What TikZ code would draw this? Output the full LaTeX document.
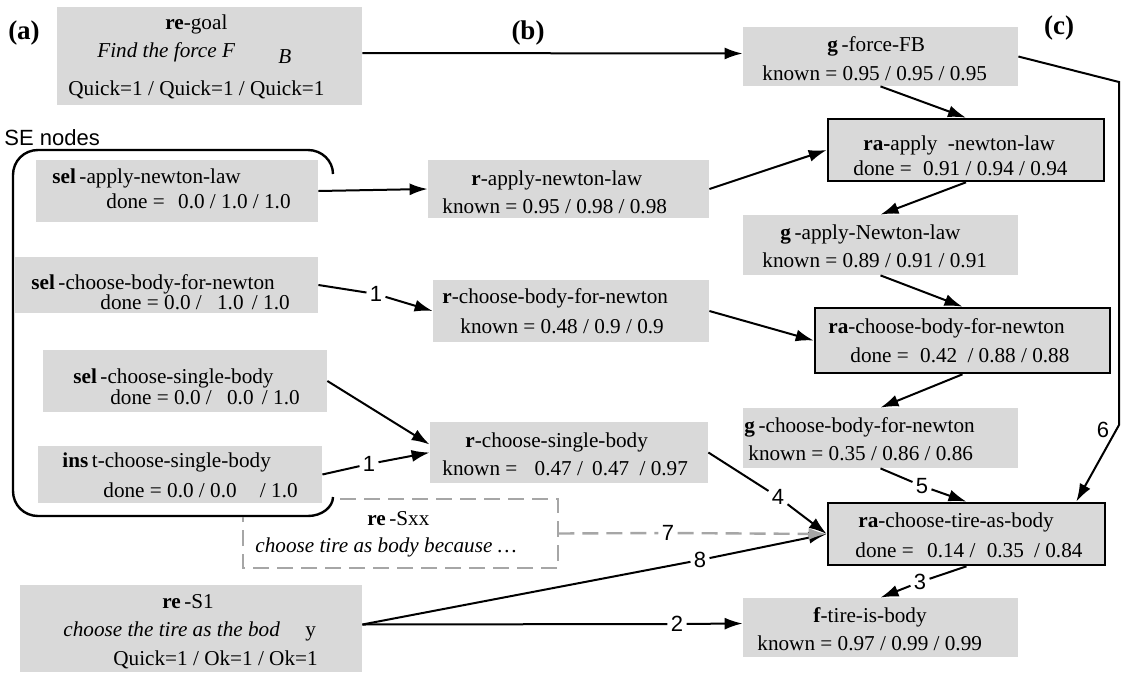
\documentclass[tikz,border=0pt]{standalone}
\usepackage{fontspec}
\setmainfont{Liberation Serif}
\newfontfamily\labfont{Liberation Sans}
\usetikzlibrary{fit,arrows.meta,calc}
\definecolor{boxgray}{RGB}{217,217,217}
\definecolor{dashgray}{RGB}{166,166,166}
\tikzset{
  box/.style={fill=boxgray, draw=none, inner sep=0pt},
  rabox/.style={box, draw=black, line width=1.3pt},
  txt/.style={anchor=base west, inner sep=0pt, font=\fontsize{10.6}{12}\selectfont},
  lbl/.style={inner sep=1.5pt, font=\labfont\fontsize{11}{12}\selectfont},
  edge/.style={line width=1pt, -{Latex[length=9pt,width=6pt]}},
  plainedge/.style={line width=1pt},
  dedge/.style={draw=dashgray, line width=1.2pt, dash pattern=on 8pt off 4pt},
  panel/.style={font=\bfseries\fontsize{13.5}{15}\selectfont, inner sep=0pt},
  grp/.style={line width=1.2pt},
}
\begin{document}
\begin{tikzpicture}[x=0.5pt,y=-0.5pt]
\useasboundingbox (0,0) rectangle (1121,675);

% boxes
\node[box, fit={(57,7) (362,105)}] (goal) {};
\node[box, fit={(743,27) (1018,86)}] (gfb) {};
\node[rabox, fit={(828,119) (1104,181)}] (raapply) {};
\node[box, fit={(428,160) (709,218)}] (rapply) {};
\node[box, fit={(743,215) (1018,275)}] (gapply) {};
\node[rabox, fit={(815,308) (1110,373)}] (rachoose) {};
\node[box, fit={(433,280) (709,342)}] (rchoose) {};
\node[box, fit={(743,408) (1018,468)}] (gchoose) {};
\node[rabox, fit={(828,503) (1105,565)}] (ratire) {};
\node[box, fit={(743,598) (1018,657)}] (ftire) {};
\node[box, fit={(36,160) (318,222)}] (selapply) {};
\node[box, fit={(15,257) (318,313)}] (selchoose) {};
\node[box, fit={(43,350) (327,412)}] (selsingle) {};
\node[box, fit={(38,446) (322,503)}] (inst) {};
\node[box, fit={(430,422) (708,483)}] (rsingle) {};
\node[box, fit={(20,585) (362,672)}] (reS) {};
\node[inner sep=0pt, fit={(243,499) (558,568)}] (resxx) {};

% SE group outline
\draw[grp] (333,174) .. controls (333,161) and (322,150) .. (308,150) -- (38,150)
  .. controls (24,150) and (13,161) .. (13,175) -- (13,491)
  .. controls (13,505) and (24,516) .. (38,516) -- (308,516)
  .. controls (322,516) and (333,507) .. (333,497);
\node[anchor=base west, inner sep=0pt, font=\labfont\fontsize{11}{13}\selectfont] (senodes) at (4,145) {SE nodes};

% dashed box
\draw[dedge] (340,499) -- (558,499) -- (558,568) -- (243,568) -- (243,517);

% panel labels
\node[panel] (pa) at (24,33) {(a)};
\node[panel] (pb) at (528,33) {(b)};
\node[panel] (pc) at (1059,28) {(c)};

% texts
\node[txt] (goal1) at (165,29) {\textbf{re}-goal};
\node[txt] (goal2) at (97,57) {\textit{Find the force F}};
\node[txt] (goal3) at (278,63) {\textit{B}};
\node[txt] (goal4) at (68,95) {Quick=1 / Quick=1 / Quick=1};

\node[txt] (gfb1) at (827,51) {\textbf{g}\,-force-FB};
\node[txt] (gfb2) at (762,80) {known = 0.95 / 0.95 / 0.95};

\node[txt] (raapply1) at (863,150) {\textbf{ra-}apply\hspace{2.5pt} -newton-law};
\node[txt] (raapply2) at (853,175) {done =\hspace{3pt} 0.91 / 0.94 / 0.94};

\node[txt] (rapply1) at (471,185) {\textbf{r}-apply-newton-law};
\node[txt] (rapply2) at (442,213) {known = 0.95 / 0.98 / 0.98};

\node[txt] (gapply1) at (780,239) {\textbf{g}\,-apply-Newton-law};
\node[txt] (gapply2) at (762,267) {known = 0.89 / 0.91 / 0.91};

\node[txt] (rachoose1) at (828,333) {\textbf{ra}-choose-body-for-newton};
\node[txt] (rachoose2) at (850,362) {done =\hspace{3pt} 0.42\hspace{2.5pt} / 0.88 / 0.88};

\node[txt] (rchoose1) at (442,303) {\textbf{r}-choose-body-for-newton};
\node[txt] (rchoose2) at (460,333) {known = 0.48 / 0.9 / 0.9};

\node[txt] (gchoose1) at (744,432) {\textbf{g}\,-choose-body-for-newton};
\node[txt] (gchoose2) at (748,460) {known = 0.35 / 0.86 / 0.86};

\node[txt] (ratire1) at (858,527) {\textbf{ra}-choose-tire-as-body};
\node[txt] (ratire2) at (855,557) {done =\hspace{4pt} 0.14 /\hspace{3pt} 0.35\hspace{2.5pt} / 0.84};

\node[txt] (ftire1) at (813,622) {\textbf{f}-tire-is-body};
\node[txt] (ftire2) at (757,650) {known = 0.97 / 0.99 / 0.99};

\node[txt] (selapply1) at (52,183) {\textbf{sel}\,-apply-newton-law};
\node[txt] (selapply2) at (106,208) {done =\hspace{4pt} 0.0 / 1.0 / 1.0};

\node[txt] (selchoose1) at (31,289) {\textbf{sel}\,-choose-body-for-newton};
\node[txt] (selchoose2) at (100,309) {done = 0.0 /\hspace{5pt} 1.0\hspace{1.5pt} / 1.0};

\node[txt] (selsingle1) at (73,383) {\textbf{sel}\,-choose-single-body};
\node[txt] (selsingle2) at (110,404) {done = 0.0 /\hspace{5pt} 0.0\hspace{1.5pt} / 1.0};

\node[txt] (inst1) at (62,467) {\textbf{ins}\,t-choose-single-body};
\node[txt] (inst2) at (103,497) {done = 0.0 / 0.0\hspace{9pt} / 1.0};

\node[txt] (rsingle1) at (465,447) {\textbf{r}-choose-single-body};
\node[txt] (rsingle2) at (442,475) {known =\hspace{6pt} 0.47 /\hspace{2pt} 0.47\hspace{2.5pt} / 0.97};

\node[txt] (resxx1) at (367,525) {\textbf{re}\,-Sxx};
\node[txt] (resxx2) at (255,552) {\textit{choose tire as body because \ldots}};

\node[txt] (reS1) at (162,608) {\textbf{re}\,-S1};
\node[txt] (reS2) at (63,636) {\textit{choose the tire as the bod}};
\node[txt] (reS3) at (305,636) {y};
\node[txt] (reS4) at (113,665) {Quick=1 / Ok=1 / Ok=1};

% edge labels
\node[lbl] (l1a) at (376,294) {1};
\node[lbl] (l1b) at (369,464) {1};
\node[lbl] (l4) at (778,497) {4};
\node[lbl] (l5) at (922,486) {5};
\node[lbl] (l3) at (920,582) {3};
\node[lbl] (l6) at (1103,430) {6};
\node[lbl] (l7) at (668,533) {7};
\node[lbl] (l8) at (700,560) {8};
\node[lbl] (l2) at (677,624) {2};

\coordinate (c6a) at (1119,82);
\coordinate (c6b) at (1119,425);

% edges
\draw[edge] ([yshift=1.5pt]goal.east) -- ([yshift=1.5pt]gfb.west);
\draw[edge] (gfb.south) -- (raapply.north);
\draw[edge] (gfb.east) -- (c6a) -- (c6b) -- ($(ratire.north east)+(-30,0)$);
\draw[edge] (rapply.east) -- (raapply.west);
\draw[edge] (raapply.south) -- (gapply.north);
\draw[edge] (gapply.south) -- (rachoose.north);
\draw[edge] (rchoose.east) -- (rachoose.west);
\draw[edge] (rachoose.south) -- (gchoose.north);
\draw[plainedge] (gchoose.south) -- (l5);
\draw[edge] (l5) -- (ratire.north);
\draw[plainedge] (ratire.south) -- (l3);
\draw[edge] (l3) -- (ftire.north);
\draw[edge] (selapply.east) -- (rapply.west);
\draw[plainedge] (selchoose.east) -- (l1a);
\draw[edge] (l1a) -- (rchoose.west);
\draw[edge] (selsingle.east) -- ([yshift=4pt]rsingle.west);
\draw[plainedge] (inst.east) -- (l1b);
\draw[edge] (l1b) -- (rsingle.west);
\draw[plainedge] (rsingle.east) -- (l4);
\draw[edge] (l4) -- (ratire.west);
\draw[plainedge] ([yshift=2pt]reS.east) -- (l8);
\draw[edge] (l8) -- (ratire.west);
\draw[plainedge] ([yshift=2pt]reS.east) -- (l2);
\draw[edge] (l2) -- ([yshift=2pt]ftire.west);
\draw[dedge] (resxx.east) -- (l7);
\draw[dedge, -{Latex[length=9pt,width=6pt]}] (l7) -- (ratire.west);
\end{tikzpicture}
\end{document}
